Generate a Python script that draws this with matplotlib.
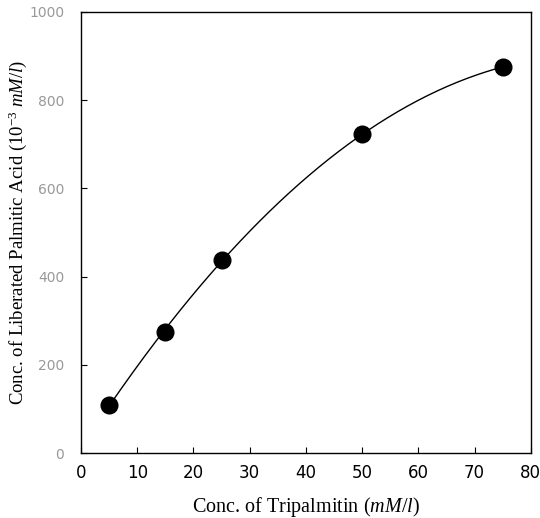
import numpy as np
import matplotlib
matplotlib.use("Agg")
import matplotlib.pyplot as plt

# tripalmitin concentration (mM/l) and liberated palmitic acid (10^-3 mM/l)
conc = [5, 15, 25, 50, 75]
acid = [110, 275, 438, 723, 875]
xticks = [0, 10, 20, 30, 40, 50, 60, 70, 80]
yticks = [0, 200, 400, 600, 800, 1000]

plt.rcParams["mathtext.fontset"] = "custom"
plt.rcParams["mathtext.rm"] = "Liberation Serif"
plt.rcParams["mathtext.it"] = "Liberation Serif:italic"

fig = plt.figure(figsize=(5.4, 5.18), dpi=100)
ax = fig.add_axes([0.15, 0.125, 0.833, 0.852])

# smooth curve through the points
coef = np.polyfit(conc, acid, 2)
xs = np.linspace(conc[0], conc[-1], 200)
ax.plot(xs, np.polyval(coef, xs), color="black", lw=1.0)
ax.plot(conc, acid, "o", color="black", markersize=12)

ax.set_xlim(0, 80)
ax.set_ylim(0, 1000)
ax.set_xticks(xticks)
ax.set_yticks(yticks)
ax.tick_params(direction="in", length=4, width=0.8)
ax.tick_params(axis="x", labelsize=12, pad=8)
ax.tick_params(axis="y", labelsize=10, labelcolor="#999999", pad=12)
for s in ax.spines.values():
    s.set_linewidth(1.0)

ax.set_xlabel(r"Conc. of Tripalmitin ($mM/l$)", family="Liberation Serif",
              fontsize=14.5, labelpad=9)
ax.set_ylabel(r"Conc. of Liberated Palmitic Acid (10$^{-3}$ $mM/l$)",
              family="Liberation Serif", fontsize=13.5, labelpad=0)

fig.savefig("out.png", dpi=100)
